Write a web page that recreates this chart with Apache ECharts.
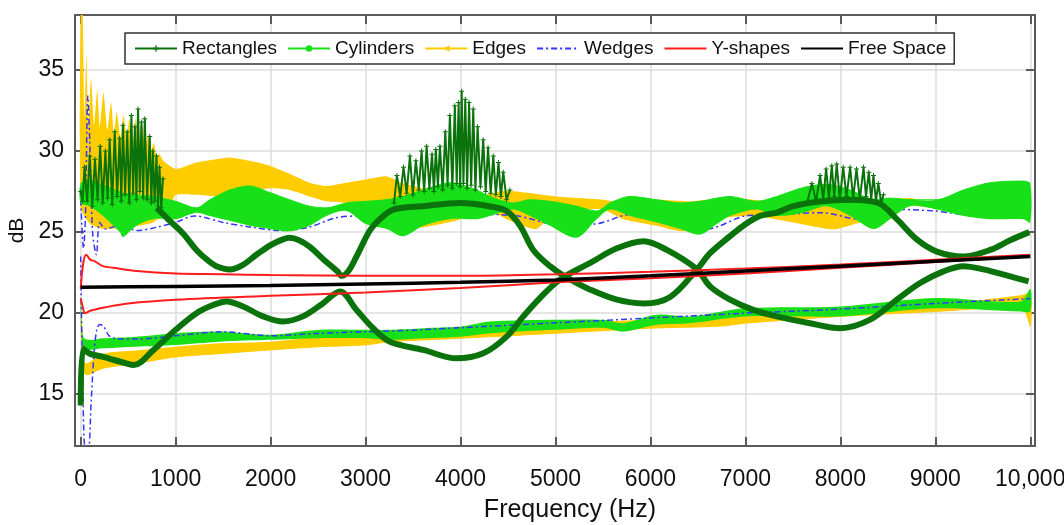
<!DOCTYPE html>
<html>
<head>
<meta charset="utf-8">
<title>dB vs Frequency</title>
<script src="https://cdn.jsdelivr.net/npm/echarts@6.0.0/dist/echarts.min.js"></script>
<style>
  html, body { margin: 0; padding: 0; background: #fff; }
  #chart { width: 1064px; height: 525px; }
</style>
</head>
<body>
<div id="chart"></div>
<script>
const FONT = '"Liberation Sans", Arial, sans-serif'

// axis ticks
const freqTicks = [0, 1000, 2000, 3000, 4000, 5000, 6000, 7000, 8000, 9000, 10000]
const dbTicks = [15, 20, 25, 30, 35]

// Rectangles - two sinusoidal traces
const rectAFreq = [800, 938, 1080, 1219, 1330, 1430, 1570, 1700, 1850, 2000, 2130, 2200, 2300, 2410, 2560, 2700, 2750, 2820, 2905, 3045, 3150, 3300, 3600, 4000, 4300, 4485, 4626, 4766, 4942, 5117, 5366, 5647, 5928, 6208, 6490, 6628, 6838, 6979, 7154, 7330, 7505, 7800, 8100, 8400, 8595, 8805, 9016, 9297, 9578, 9788, 9990]
const rectADb = [26.5, 25.7, 24.9, 23.9, 23.3, 22.9, 22.7, 22.95, 23.6, 24.2, 24.55, 24.65, 24.5, 24.1, 23.3, 22.6, 22.3, 22.6, 23.5, 25.1, 25.8, 26.4, 26.6, 26.8, 26.6, 26.3, 25.4, 23.9, 22.9, 22.2, 21.45, 20.83, 20.6, 21.0, 22.7, 23.7, 24.75, 25.4, 26.0, 26.2, 26.6, 26.9, 27.0, 26.8, 25.8, 24.55, 23.8, 23.5, 23.9, 24.5, 25.0]
const rectBFreq = [0, 25, 95, 235, 480, 560, 762, 1000, 1219, 1394, 1535, 1710, 1920, 2130, 2340, 2550, 2730, 2905, 3080, 3256, 3607, 3958, 4240, 4485, 4661, 4836, 5047, 5366, 5647, 5928, 6173, 6490, 6628, 6838, 7084, 7330, 7680, 8000, 8314, 8595, 8840, 9086, 9297, 9507, 9788, 9982]
const rectBDb = [14.3, 17.8, 17.5, 17.3, 16.9, 16.8, 17.7, 18.97, 20.0, 20.5, 20.72, 20.41, 19.8, 19.48, 19.8, 20.6, 21.34, 20.2, 19.07, 18.24, 17.73, 17.21, 17.52, 18.55, 19.8, 20.93, 22.07, 23.1, 24.0, 24.44, 23.9, 22.7, 21.65, 20.83, 20.2, 19.8, 19.38, 19.07, 19.6, 20.83, 21.86, 22.58, 22.9, 22.7, 22.27, 21.96]
// Rectangles - spiky parts
const spike1Freq = [0, 20, 40, 68, 95, 122, 150, 178, 205, 232, 260, 283, 305, 332, 358, 384, 410, 428, 445, 468, 490, 512, 534, 552, 570, 587, 604, 622, 640, 658, 675, 700, 727, 744, 760, 779, 798, 814, 830, 848, 866]
const spike1Db = [27.5, 26.9, 29.0, 26.9, 29.7, 26.6, 29.5, 27.0, 30.3, 26.8, 30.0, 27.1, 30.7, 26.7, 31.2, 27.2, 30.8, 26.9, 31.6, 27.3, 31.2, 26.8, 32.2, 27.4, 31.5, 27.0, 32.6, 27.5, 31.8, 27.1, 32.0, 27.0, 30.9, 26.8, 30.0, 26.9, 29.7, 26.6, 29.0, 26.5, 28.3]
const spike2Freq = [3300, 3330, 3365, 3400, 3433, 3467, 3498, 3530, 3560, 3590, 3617, 3643, 3672, 3700, 3720, 3740, 3762, 3783, 3812, 3840, 3864, 3888, 3914, 3940, 3960, 3980, 3996, 4012, 4031, 4050, 4070, 4090, 4112, 4134, 4157, 4180, 4210, 4239, 4265, 4290, 4318, 4345, 4372, 4400, 4425, 4450, 4485, 4520]
const spike2Db = [26.8, 28.5, 27.2, 29.0, 27.4, 29.7, 27.3, 29.4, 27.6, 30.0, 27.5, 30.3, 27.7, 29.8, 27.5, 30.1, 27.8, 30.3, 27.6, 31.2, 27.9, 32.2, 27.7, 32.8, 28.0, 33.0, 27.8, 33.7, 28.0, 33.2, 27.7, 33.0, 27.9, 32.6, 27.6, 31.5, 27.8, 30.7, 27.5, 30.2, 27.4, 29.7, 27.3, 29.3, 27.2, 28.7, 27.0, 27.6]
const spike3Freq = [7650, 7700, 7745, 7787, 7820, 7850, 7880, 7910, 7935, 7962, 7995, 8030, 8065, 8103, 8135, 8170, 8205, 8244, 8270, 8300, 8325, 8349, 8375, 8400, 8430, 8454]
const spike3Db = [26.8, 28.0, 26.9, 28.5, 27.0, 28.9, 27.1, 29.1, 27.2, 29.2, 27.0, 29.0, 27.2, 29.0, 27.1, 28.9, 27.0, 29.0, 27.2, 28.7, 27.0, 28.5, 26.9, 28.0, 26.8, 27.3]

// Cylinders - upper and lower bands (top / bottom envelope)
const cylUpFreq = [0, 95, 235, 411, 446, 587, 762, 1000, 1219, 1360, 1570, 1780, 1990, 2200, 2410, 2590, 2800, 3000, 3220, 3397, 3607, 3888, 4169, 4310, 4556, 4731, 4942, 5223, 5434, 5575, 5786, 6067, 6313, 6524, 6700, 6838, 7119, 7330, 7610, 7856, 8103, 8349, 8524, 8735, 9016, 9297, 9578, 9929, 10000]
const cylUpTop = [28.0, 28.2, 27.9, 27.5, 27.4, 27.3, 27.2, 26.9, 26.5, 27.0, 27.6, 27.85, 27.45, 27.0, 26.6, 26.5, 26.8, 26.9, 27.0, 27.2, 27.6, 28.05, 27.6, 27.2, 26.8, 27.0, 26.9, 26.6, 26.3, 26.8, 27.2, 27.0, 26.8, 26.9, 27.1, 27.2, 26.9, 27.2, 27.75, 27.95, 27.6, 27.0, 27.1, 27.0, 27.0, 27.6, 28.05, 28.15, 28.0]
const cylUpBottom = [26.8, 26.6, 26.0, 25.0, 24.7, 25.4, 25.8, 25.8, 26.2, 26.0, 25.7, 25.4, 25.2, 25.05, 25.4, 26.0, 26.3, 25.5, 25.2, 24.75, 25.4, 25.8, 25.8, 26.0, 26.4, 26.0, 25.4, 24.65, 25.8, 26.4, 26.0, 25.6, 25.2, 24.85, 25.5, 26.0, 26.4, 26.0, 26.2, 26.6, 26.0, 25.2, 25.8, 26.6, 26.4, 26.0, 25.8, 25.8, 25.6]
const cylLowFreq = [0, 30, 95, 235, 587, 1000, 1465, 1990, 2520, 3000, 3256, 3607, 4000, 4310, 5000, 5504, 5715, 6067, 6419, 7000, 8000, 9000, 9900, 10000]
const cylLowTop = [21.0, 18.5, 18.35, 18.45, 18.55, 18.76, 18.86, 18.66, 18.97, 18.97, 18.97, 19.07, 19.17, 19.48, 19.59, 19.59, 19.38, 19.9, 19.8, 20.3, 20.41, 20.93, 20.72, 21.5]
const cylLowBottom = [20.0, 17.8, 17.73, 17.83, 17.93, 18.04, 18.24, 18.35, 18.45, 18.45, 18.35, 18.45, 18.55, 18.76, 18.97, 19.1, 18.86, 19.28, 19.38, 19.8, 19.8, 20.3, 20.1, 20.1]

// Edges - upper band (spiky top at low frequency) and lower band
const edgeUpTopFreq = [0, 20, 40, 60, 80, 110, 140, 175, 200, 240, 280, 320, 350, 380, 420, 450, 490, 510, 550, 580, 610, 640, 680, 710, 740, 770, 800, 830, 870, 1000, 1219, 1430, 1570, 1780, 1990, 2200, 2410, 2590, 2800, 3000, 3220, 3400, 3700, 4000, 4240, 4485, 5012, 5504, 5715, 6067, 6400, 6628, 7084, 7505, 7900, 8208, 8540, 8735, 9086, 9438, 9964, 10000]
const edgeUpTop = [39.0, 38.6, 32.0, 35.9, 31.8, 34.5, 31.6, 33.8, 31.5, 33.6, 31.3, 33.0, 31.0, 32.4, 30.8, 32.2, 30.7, 32.0, 30.5, 32.0, 30.4, 31.8, 30.2, 31.0, 30.0, 30.5, 29.7, 29.8, 29.4, 28.9, 29.3, 29.5, 29.6, 29.4, 29.1, 28.6, 28.05, 27.85, 28.05, 28.25, 28.45, 28.0, 27.6, 27.4, 27.3, 27.55, 27.2, 27.0, 26.8, 27.0, 26.9, 27.0, 27.0, 26.6, 26.6, 26.7, 27.0, 27.1, 26.6, 27.2, 27.3, 27.2]
const edgeUpBotFreq = [0, 100, 235, 500, 762, 940, 1000, 1219, 1430, 1570, 1780, 1990, 2200, 2410, 2590, 2800, 3000, 3220, 3400, 3700, 4000, 4240, 4485, 4800, 5012, 5300, 5504, 5715, 6067, 6348, 6628, 7084, 7505, 7927, 8208, 8540, 8735, 9086, 9438, 9964, 10000]
const edgeUpBottom = [26.5, 25.5, 25.2, 25.3, 25.6, 26.5, 27.3, 27.3, 27.2, 27.3, 27.5, 27.7, 27.6, 27.2, 26.9, 26.8, 26.5, 25.8, 25.2, 25.4, 25.8, 26.5, 25.8, 25.2, 26.4, 26.4, 26.4, 25.8, 25.4, 25.06, 25.8, 26.0, 25.6, 25.17, 25.6, 26.0, 26.6, 26.4, 26.0, 25.8, 25.8]
const edgeLowFreq = [0, 30, 60, 235, 587, 1000, 1465, 1990, 2520, 3000, 3256, 4000, 5000, 6000, 6736, 7000, 8000, 9000, 9900, 10000]
const edgeLowTop = [20.2, 17.3, 16.9, 17.5, 17.7, 17.93, 18.14, 18.24, 18.55, 18.66, 18.7, 19.07, 19.38, 19.59, 19.7, 19.9, 20.1, 20.5, 21.1, 21.2]
const edgeLowBottom = [19.5, 16.6, 16.2, 16.6, 16.9, 17.3, 17.5, 17.73, 17.93, 18.04, 18.24, 18.45, 18.76, 19.07, 19.2, 19.38, 19.8, 20.1, 20.4, 19.2]

// Wedges
const wedgeUpFreq = [0, 30, 50, 75, 95, 125, 165, 200, 260, 400, 600, 800, 1000, 1200, 1500, 1800, 2100, 2400, 2700, 3000, 3400, 3800, 4200, 4600, 5000, 5400, 5800, 6200, 6600, 7000, 7400, 7800, 8200, 8600, 9000, 9400, 9800, 10000]
const wedgeUpDb = [27.0, 24.0, 26.0, 33.4, 30.7, 25.0, 23.6, 25.6, 25.2, 25.4, 25.1, 25.3, 25.6, 26.0, 25.6, 25.3, 25.1, 25.3, 25.9, 26.0, 25.0, 26.0, 26.1, 26.0, 25.5, 25.5, 26.1, 25.5, 25.2, 26.0, 26.1, 26.2, 25.8, 26.4, 26.3, 26.0, 25.9, 26.0]
const wedgeLowFreq = [0, 25, 50, 80, 110, 140, 170, 200, 240, 300, 400, 600, 1000, 1500, 2000, 2500, 3000, 3500, 4000, 5000, 6000, 7000, 8000, 9000, 10000]
const wedgeLowDb = [23.5, 14.5, 11.5, 11.5, 14.5, 17.5, 19.0, 19.3, 19.2, 18.6, 18.4, 18.4, 18.6, 18.85, 18.6, 18.75, 18.85, 18.95, 19.1, 19.4, 19.7, 20.0, 20.25, 20.6, 20.9]

// Y-shapes
const yUpFreq = [0, 30, 60, 100, 150, 235, 350, 590, 1000, 1500, 2000, 3000, 4000, 5000, 6000, 7000, 8000, 9000, 10000]
const yUpDb = [21.5, 23.2, 23.6, 23.3, 23.2, 22.9, 22.8, 22.6, 22.45, 22.4, 22.35, 22.3, 22.3, 22.4, 22.55, 22.75, 23.0, 23.3, 23.6]
const yLowFreq = [0, 25, 45, 100, 250, 500, 1000, 2000, 3000, 4000, 5000, 6000, 7000, 8000, 9000, 10000]
const yLowDb = [20.9, 20.3, 20.0, 20.15, 20.35, 20.6, 20.83, 21.07, 21.28, 21.55, 21.9, 22.15, 22.45, 22.8, 23.15, 23.5]

// Free Space
const freeFreq = [0, 1000, 2000, 3000, 4000, 5000, 6000, 7000, 8000, 9000, 10000]
const freeDb = [21.6, 21.65, 21.7, 21.8, 21.9, 22.05, 22.3, 22.6, 22.9, 23.2, 23.5]

const C_RECT = '#0b730b'
const C_CYL = '#18e018'
const C_EDGE = '#ffcc00'
const C_WEDGE = '#3535ff'
const C_Y = '#ff1c1c'
const PLUS = 'path://M2,0H3V2H5V3H3V5H2V3H0V2H2Z'

const pairs = (fx, ys) => fx.map((f, i) => [f, ys[i]])

const line = (name, fx, ys, color, width, z, extra) => Object.assign({
  type: 'line',
  name,
  z,
  data: pairs(fx, ys),
  showSymbol: false,
  smooth: 0.35,
  lineStyle: { color, width },
  itemStyle: { color },
  silent: true
}, extra || {})

// filled band between a top and a bottom envelope
const band = (name, color, topFreq, top, botFreq, bottom, z, smooth) => ({
  type: 'custom',
  name,
  z,
  silent: true,
  clip: true,
  data: [[5000, 25]],
  renderItem: (params, api) => {
    const pts = topFreq.map((f, i) => api.coord([f, top[i]]))
    for (let i = botFreq.length - 1; i >= 0; i--) {
      pts.push(api.coord([botFreq[i], bottom[i]]))
    }
    return {
      type: 'polygon',
      shape: { points: pts, smooth },
      style: { fill: color }
    }
  }
})

const spikeExtra = {
  smooth: false,
  symbol: PLUS,
  symbolSize: 5,
  showSymbol: true
}

const wedgeLine = { color: C_WEDGE, width: 1.5, type: [6, 3, 2, 3] }

const chart = echarts.init(document.getElementById('chart'))

const axisLineStyle = { color: '#5a5a5a', width: 2 }

chart.setOption({
  animation: false,
  backgroundColor: '#fff',
  textStyle: { fontFamily: FONT },
  grid: { left: 75, right: 29, top: 15, bottom: 79, containLabel: false, outerBoundsMode: 'none' },
  legend: {
    left: 125,
    top: 33,
    z: 20,
    padding: [6, 8, 6, 9],
    itemGap: 10,
    itemWidth: 42,
    itemHeight: 8,
    backgroundColor: '#fff',
    borderColor: '#333',
    borderWidth: 1.5,
    borderRadius: 0,
    selectedMode: false,
    textStyle: { fontSize: 19, color: '#111', fontFamily: FONT },
    data: [
      { name: 'Rectangles', lineStyle: { width: 2 } },
      { name: 'Cylinders', lineStyle: { width: 2 } },
      { name: 'Edges', lineStyle: { width: 2 } },
      { name: 'Wedges', itemStyle: { opacity: 0 } },
      { name: 'Y-shapes', itemStyle: { opacity: 0 } },
      { name: 'Free Space', itemStyle: { opacity: 0 } }
    ]
  },
  xAxis: [
    {
      type: 'value',
      min: -60,
      max: 10050,
      name: 'Frequency (Hz)',
      nameLocation: 'middle',
      nameGap: 52,
      nameTextStyle: { fontSize: 25, color: '#111', fontFamily: FONT, padding: [0, 0, 0, 30] },
      axisLine: { onZero: false, lineStyle: axisLineStyle },
      axisTick: { inside: true, length: 9, customValues: freqTicks, lineStyle: axisLineStyle },
      axisLabel: {
        customValues: freqTicks,
        margin: 22,
        fontSize: 23,
        color: '#111',
        fontFamily: FONT,
        formatter: v => (v === 10000 ? '10,000' : String(v))
      },
      splitLine: { show: true, lineStyle: { color: '#dcdcdc', width: 1.5 } }
    },
    {
      type: 'value',
      position: 'top',
      min: -60,
      max: 10050,
      axisLine: { onZero: false, lineStyle: axisLineStyle },
      axisTick: { inside: true, length: 9, customValues: freqTicks, lineStyle: axisLineStyle },
      axisLabel: { show: false },
      splitLine: { show: false }
    }
  ],
  yAxis: [
    {
      type: 'value',
      min: 11.8,
      max: 38.4,
      name: 'dB',
      nameLocation: 'middle',
      nameGap: 45,
      nameTextStyle: { fontSize: 21, color: '#111', fontFamily: FONT },
      axisLine: { show: true, onZero: false, lineStyle: axisLineStyle },
      axisTick: { show: true, inside: true, length: 9, customValues: dbTicks, lineStyle: axisLineStyle },
      axisLabel: { customValues: dbTicks, margin: 11, fontSize: 23, color: '#111', fontFamily: FONT },
      splitLine: { show: true, lineStyle: { color: '#dcdcdc', width: 1.5 } }
    },
    {
      type: 'value',
      position: 'right',
      min: 11.8,
      max: 38.4,
      axisLine: { show: true, onZero: false, lineStyle: axisLineStyle },
      axisTick: { show: true, inside: true, length: 9, customValues: dbTicks, lineStyle: axisLineStyle },
      axisLabel: { show: false },
      splitLine: { show: false }
    }
  ],
  series: [
    // Rectangles
    line('Rectangles', spike1Freq, spike1Db, C_RECT, 2, 6, spikeExtra),
    line('Rectangles', spike2Freq, spike2Db, C_RECT, 2, 6, spikeExtra),
    line('Rectangles', spike3Freq, spike3Db, C_RECT, 2, 6, spikeExtra),
    line('Rectangles', rectAFreq, rectADb, C_RECT, 6, 6, { symbol: PLUS }),
    line('Rectangles', rectBFreq, rectBDb, C_RECT, 6, 6, { symbol: PLUS }),
    // Cylinders
    line('Cylinders', cylUpFreq, cylUpTop, C_CYL, 1, 4, { symbol: 'circle', smooth: 0.3 }),
    band('Cylinders', C_CYL, cylUpFreq, cylUpTop, cylUpFreq, cylUpBottom, 4, 0.3),
    band('Cylinders', C_CYL, cylLowFreq, cylLowTop, cylLowFreq, cylLowBottom, 4, 0.3),
    // Edges
    line('Edges', edgeLowFreq, edgeLowBottom, C_EDGE, 1, 2, { symbol: 'triangle', symbolRotate: 90, smooth: 0.3 }),
    band('Edges', C_EDGE, edgeUpTopFreq, edgeUpTop, edgeUpBotFreq, edgeUpBottom, 2, 0.2),
    band('Edges', C_EDGE, edgeLowFreq, edgeLowTop, edgeLowFreq, edgeLowBottom, 2, 0.3),
    // Wedges: upper trace sits under the Cylinders band, lower trace on top
    line('Wedges', wedgeUpFreq, wedgeUpDb, C_WEDGE, 1.5, 3, { symbol: 'none', smooth: 0.3, lineStyle: wedgeLine }),
    line('Wedges', wedgeLowFreq, wedgeLowDb, C_WEDGE, 1.5, 5, { symbol: 'none', smooth: 0.3, lineStyle: wedgeLine }),
    // Y-shapes
    line('Y-shapes', yUpFreq, yUpDb, C_Y, 2, 7, { symbol: 'none' }),
    line('Y-shapes', yLowFreq, yLowDb, C_Y, 2, 7, { symbol: 'none' }),
    // Free Space
    line('Free Space', freeFreq, freeDb, '#000', 3.5, 8, { symbol: 'none', smooth: 0.2 })
  ]
})

window.addEventListener('resize', () => chart.resize())
</script>
</body>
</html>
